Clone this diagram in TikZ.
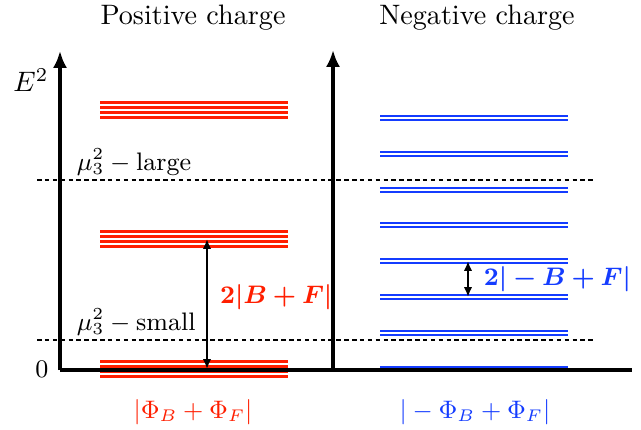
\documentclass[tikz,border=0pt]{standalone}
\usetikzlibrary{arrows.meta, positioning}
\usepackage{amsmath, amssymb, bm}
\definecolor{posred}{RGB}{255,30,0}
\definecolor{negblue}{RGB}{20,60,255}

\begin{document}
\begin{tikzpicture}[x=0.0125cm, y=0.0125cm,
        >={Latex[length=6pt,width=5pt]},
        axis/.style={line width=1.4pt},
        level/.style={line width=0.75pt},
        cut/.style={line width=0.6pt, dash pattern=on 1.6pt off 1.2pt},
        gap/.style={<->, line width=0.7pt, >={Latex[length=3.5pt,width=3pt]}},
        lab/.style={font=\small},
        every node/.style={font=\normalsize}]
      \useasboundingbox (-60,-59) rectangle (581,370);
      % levels, positive charge
      \foreach \yc [count=\i] in {1,131,260} {
        \coordinate (p\i) at (147,\yc);
        \foreach \dy in {-7.5,-2.5,2.5,7.5}
          \draw[level, posred] (40,\yc+\dy) -- (228,\yc+\dy);
      }
      % levels, negative charge
      \foreach \yc [count=\i] in {1,37,73,109,145,180,216,252} {
        \coordinate (n\i) at (408,\yc);
        \foreach \dy in {-2,2}
          \draw[level, negblue] (320,\yc+\dy) -- (508,\yc+\dy);
      }
      % thresholds
      \coordinate (hl) at (-23,190);
      \coordinate (hr) at (535,190);
      \coordinate (ll) at (-23,30);
      \coordinate (lr) at (535,30);
      \draw[cut] (hl) -- (hr);
      \draw[cut] (ll) -- (lr);
      \node[lab, anchor=west] (large) at (7,208) {$\mu_3^2 - \text{large}$};
      \node[lab, anchor=west] (small) at (7,48) {$\mu_3^2 - \text{small}$};
      % axes
      \coordinate (o) at (0,0);
      \coordinate (ytop) at (0,319);
      \coordinate (mid) at (273,0);
      \coordinate (mtop) at (273,320);
      \coordinate (xend) at (572,0);
      \draw[axis, ->] (o) -- (ytop);
      \draw[axis, ->] (mid) -- (mtop);
      \draw[axis] (o) -- (xend);
      \node (esq) at (-29,290) {$E^2$};
      \node[lab] (zero) at (-18,1) {$0$};
      % splittings
      \draw[gap] (p1) -- node[lab, right, pos=0.55, text=posred, xshift=1pt]
        {$\bm{2|B+F|}$} (p2);
      \draw[gap] (n3) -- node[lab, right, text=negblue, xshift=2pt]
        {$\bm{2|-B+F|}$} (n4);
      % titles
      \node (tpos) at (133,352) {Positive charge};
      \node (tneg) at (417,352) {Negative charge};
      \node[lab, text=posred] (fpos) at (133,-42) {$|\Phi_B+\Phi_F|$};
      \node[lab, text=negblue] (fneg) at (415,-42) {$|-\Phi_B+\Phi_F|$};
    \end{tikzpicture}
\end{document}
